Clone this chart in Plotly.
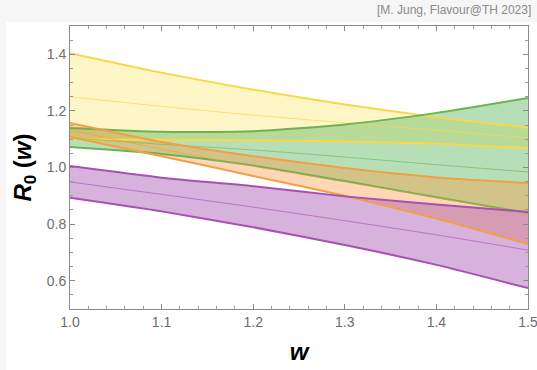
import plotly.graph_objects as go

w = [1.0, 1.1, 1.2, 1.3, 1.4, 1.5]

yellow_upper = [1.404, 1.335, 1.275, 1.223, 1.178, 1.140]
yellow_center = [1.250, 1.216, 1.185, 1.158, 1.132, 1.105]
yellow_lower = [1.100, 1.098, 1.096, 1.092, 1.084, 1.069]

green_upper = [1.140, 1.126, 1.128, 1.152, 1.193, 1.246]
green_center = [1.105, 1.082, 1.062, 1.037, 1.010, 0.984]
green_lower = [1.072, 1.048, 1.007, 0.952, 0.895, 0.839]

orange_upper = [1.157, 1.090, 1.040, 0.998, 0.965, 0.945]
orange_center = [1.132, 1.065, 1.005, 0.949, 0.893, 0.838]
orange_lower = [1.108, 1.040, 0.970, 0.900, 0.820, 0.730]

purple_upper = [1.005, 0.964, 0.934, 0.898, 0.869, 0.843]
purple_center = [0.949, 0.905, 0.860, 0.812, 0.762, 0.708]
purple_lower = [0.893, 0.845, 0.789, 0.726, 0.656, 0.574]

x_ticks = [1.0, 1.1, 1.2, 1.3, 1.4, 1.5]
y_ticks = [0.6, 0.8, 1.0, 1.2, 1.4]

bands = [
    (yellow_upper, yellow_center, yellow_lower, "rgba(255,228,90,0.34)", "rgb(248,216,75)", "rgba(248,216,75,0.7)"),
    (green_upper, green_center, green_lower, "rgba(95,185,95,0.45)", "rgb(108,178,84)", "rgba(108,178,84,0.6)"),
    (orange_upper, orange_center, orange_lower, "rgba(255,150,60,0.38)", "rgb(240,160,70)", "rgba(240,160,70,0.6)"),
    (purple_upper, purple_center, purple_lower, "rgba(165,85,180,0.45)", "rgb(168,80,178)", "rgba(168,80,178,0.6)"),
]

fig = go.Figure()
for up, cen, lo, fillc, linec, cenc in bands:
    fig.add_trace(go.Scatter(
        x=w + w[::-1], y=up + lo[::-1], fill="toself", fillcolor=fillc,
        mode="lines", line=dict(width=0, color=fillc), hoverinfo="skip", showlegend=False))
for up, cen, lo, fillc, linec, cenc in bands:
    for arr, col, wd in ((up, linec, 2), (lo, linec, 2), (cen, cenc, 1)):
        fig.add_trace(go.Scatter(x=w, y=arr, mode="lines",
                                 line=dict(color=col, width=wd, shape="spline", smoothing=0.6),
                                 hoverinfo="skip", showlegend=False))

axis_common = dict(showline=True, linecolor="#8a8a8a", linewidth=1, mirror="ticks",
                   ticks="inside", ticklen=5, tickcolor="#8a8a8a", showgrid=False, zeroline=False,
                   ticklabeloverflow="allow", automargin=False,
                   tickfont=dict(family="Liberation Sans, Arial", size=14, color="#6e6e6e"))

fig.update_xaxes(range=[1.0, 1.5], tickvals=x_ticks, ticktext=[f"{v:.1f}" for v in x_ticks],
                 minor=dict(dtick=0.02, tick0=1.0, ticks="inside", ticklen=3, tickcolor="#9a9a9a"),
                 title=dict(text="<b><i>w</i></b>", standoff=14,
                            font=dict(family="Liberation Sans, Arial", size=24, color="black")),
                 **axis_common)
fig.update_yaxes(range=[0.5, 1.5], tickvals=y_ticks, ticktext=[f"{v:.1f}" for v in y_ticks],
                 minor=dict(dtick=0.05, tick0=0.5, ticks="inside", ticklen=3, tickcolor="#9a9a9a"),
                 title=dict(text="<b><i>R</i><sub>0</sub> (<i>w</i>)</b>", standoff=8,
                            font=dict(family="Liberation Sans, Arial", size=24, color="black")),
                 **axis_common)

fig.add_shape(type="rect", xref="paper", yref="paper",
              x0=-64/458, x1=1.1, y0=-70/283, y1=1 + 4/283,
              fillcolor="white", line=dict(width=0), layer="below")

fig.add_annotation(text="[M. Jung, Flavour@TH 2023]", xref="paper", yref="paper",
                   x=1.01, y=1.055, xanchor="right", yanchor="middle", showarrow=False,
                   font=dict(family="Liberation Sans, Arial", size=12, color="#8a8a8a"))

fig.update_layout(width=537, height=370, margin=dict(l=70, r=9, t=26, b=61),
                  paper_bgcolor="#f6f6f6", plot_bgcolor="white")

fig.write_html("out.html", config={"displayModeBar": False},
               post_script="document.body.style.margin='0';document.body.style.overflow='hidden';")
